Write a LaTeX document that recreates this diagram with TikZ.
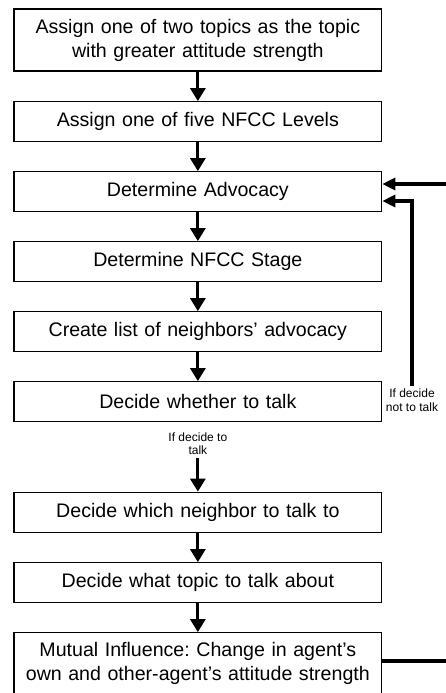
\documentclass[tikz,border=0pt]{standalone}
\usepackage{fontspec}
\setmainfont{Liberation Sans}
\usepackage{tikz}
\usetikzlibrary{arrows.meta}
\frenchspacing
\tikzstyle{block}=[rectangle,draw=black,line width=1.2pt,text width=360pt,inner xsep=3.85pt,inner ysep=0pt,minimum height=40pt,align=center,font=\fontsize{19.6}{24}\selectfont]
\tikzstyle{note}=[align=center,inner sep=3pt,font=\fontsize{12}{13.5}\selectfont]
\tikzstyle{flowarrow}=[-{Triangle[width=15pt,length=13pt]},line width=3pt]
\tikzstyle{backarrow}=[-{Triangle[width=12pt,length=13pt]},line width=3.5pt]

\begin{document}
\begin{tikzpicture}[x=1pt,y=-1pt,node distance=70pt]
          \clip (0,0) rectangle (446,693);
          \node[block,minimum height=62pt] at (197.85,40) (assign) {Assign one of two topics as the topic\\with greater attitude strength};
          \node[block] (levels) [below of=assign,node distance=81.7pt] {Assign one of five NFCC Levels};
          \node[block] (advocacy) [below of=levels] {Determine Advocacy};
          \node[block] (stage) [below of=advocacy] {Determine NFCC Stage};
          \node[block] (neighbors) [below of=stage] {Create list of neighbors’ advocacy};
          \node[block] (whether) [below of=neighbors] {Decide whether to talk};
          \node[note] (talk) [below of=whether,node distance=41.8pt] {If decide to\\talk};
          \node[note] (notalk) at (412,400) {If decide\\not to talk};
          \node[block] (which) [below of=whether,node distance=110.5pt] {Decide which neighbor to talk to};
          \node[block] (topic) [below of=which,node distance=70.5pt] {Decide what topic to talk about};
          \node[block,minimum height=62pt] (influence) [below of=topic,node distance=81pt] {Mutual Influence: Change in agent’s\\own and other-agent’s attitude strength};
          \draw [flowarrow] (assign) -- (levels);
          \draw [flowarrow] (levels) -- (advocacy);
          \draw [flowarrow] (advocacy) -- (stage);
          \draw [flowarrow] (stage) -- (neighbors);
          \draw [flowarrow] (neighbors) -- (whether);
          \draw [flowarrow] (talk) -- (which);
          \draw [flowarrow] (which) -- (topic);
          \draw [flowarrow] (topic) -- (influence);
          \draw [backarrow] ([yshift=2.7pt]influence.east) -- ++(70,0) |- ([yshift=7.7pt]advocacy.east);
          \draw [backarrow] (notalk.north) |- ([yshift=-9.3pt]advocacy.east);
        \end{tikzpicture}
\end{document}
